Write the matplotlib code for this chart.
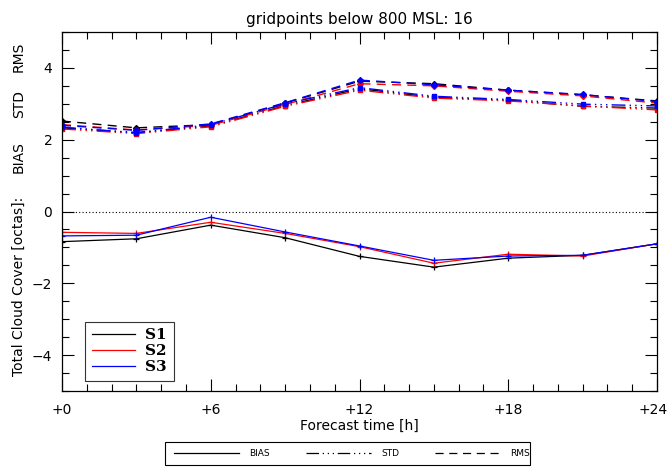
import matplotlib
matplotlib.use("Agg")
import matplotlib.pyplot as plt
from matplotlib.lines import Line2D
from matplotlib.patches import Rectangle
from matplotlib.ticker import MultipleLocator, FixedLocator
from matplotlib.transforms import ScaledTranslation

hours = [0, 3, 6, 9, 12, 15, 18, 21, 24]
xtick_vals = [0, 6, 12, 18, 24]
xtick_labels = ["+0", "+6", "+12", "+18", "+24"]
series = ["S1", "S2", "S3"]
colors = ["black", "red", "blue"]

bias = {
    "S1": [-0.84, -0.76, -0.38, -0.73, -1.25, -1.55, -1.30, -1.22, -0.90],
    "S2": [-0.58, -0.61, -0.30, -0.61, -0.98, -1.44, -1.19, -1.24, -0.90],
    "S3": [-0.68, -0.66, -0.16, -0.57, -0.96, -1.36, -1.24, -1.22, -0.90],
}
std = {
    "S1": [2.33, 2.20, 2.38, 2.95, 3.42, 3.18, 3.10, 2.93, 2.88],
    "S2": [2.30, 2.17, 2.36, 2.93, 3.38, 3.16, 3.08, 2.94, 2.83],
    "S3": [2.35, 2.19, 2.42, 3.00, 3.45, 3.21, 3.12, 2.99, 2.94],
}
rms = {
    "S1": [2.52, 2.33, 2.42, 3.02, 3.63, 3.56, 3.38, 3.25, 3.08],
    "S2": [2.42, 2.27, 2.40, 2.98, 3.56, 3.50, 3.35, 3.22, 3.02],
    "S3": [2.40, 2.26, 2.44, 3.03, 3.66, 3.53, 3.38, 3.26, 3.06],
}

title = "gridpoints below 800 MSL: 16"
ylabel = "Total Cloud Cover [octas]:"
ylabel_parts = ["BIAS", "STD", "RMS"]
xlabel = "Forecast time [h]"
stat_labels = ["BIAS", "STD", "RMS"]

W, H = 669, 467
fig = plt.figure(figsize=(W / 100, H / 100), dpi=100)
ax = fig.add_axes([62 / W, 76 / H, 595 / W, 359 / H])

dashdotdot = (0, (10, 3, 1, 3, 1, 3, 1, 3))
dashed = (0, (6.5, 4.5))
for s, c in zip(series, colors):
    ax.plot(hours, bias[s], color=c, lw=0.9, marker="+", ms=5, mew=0.9)
    ax.plot(hours, std[s], color=c, lw=1.0, ls=dashdotdot, marker="s", ms=3)
    ax.plot(hours, rms[s], color=c, lw=1.0, ls=dashed, marker="D", ms=3)

ax.axhline(0, color="black", lw=0.8, ls=(0, (1, 2)))

ax.set_xlim(0, 24)
ax.set_ylim(-5, 5)
ax.xaxis.set_major_locator(FixedLocator(xtick_vals))
ax.set_xticklabels(xtick_labels)
ax.xaxis.set_minor_locator(MultipleLocator(1))
ax.yaxis.set_major_locator(MultipleLocator(2))
ax.yaxis.set_minor_locator(MultipleLocator(0.5))
ax.tick_params(which="both", direction="in", top=True, right=True, labelsize=10)
ax.tick_params(which="major", length=8.5, width=0.8)
ax.tick_params(which="minor", length=5, width=0.8)
ax.tick_params(axis="x", pad=9)
ax.tick_params(axis="y", pad=7)
for sp in ax.spines.values():
    sp.set_linewidth(0.9)
last = ax.get_xticklabels()[-1]
last.set_transform(last.get_transform() + ScaledTranslation(-4 / 100, 0, fig.dpi_scale_trans))

ax.set_title(title, fontsize=11, pad=6)
ax.set_xlabel(xlabel, fontsize=10, labelpad=1)

# y-axis label pieces
fig.text(19 / W, 1 - 286 / H, ylabel, rotation=90, ha="center", va="center", fontsize=10)
for lab, ypx in zip(ylabel_parts, [157, 104, 57]):
    fig.text(19 / W, 1 - ypx / H, lab, rotation=90, ha="center", va="center", fontsize=10)

handles = [Line2D([0], [0], color=c, lw=0.9) for c in colors]
leg = ax.legend(handles, series, loc="lower left", bbox_to_anchor=(23 / 595, 10 / 359),
                borderaxespad=0,
                prop={"family": "DejaVu Serif", "weight": "bold", "size": 11},
                frameon=True, fancybox=False, edgecolor="black",
                handlelength=2.8, labelspacing=0.12, borderpad=0.45,
                handletextpad=0.7)
leg.get_frame().set_linewidth(0.8)

h2 = [Line2D([0], [0], color="black", lw=0.9, ls="-"),
      Line2D([0], [0], color="black", lw=0.9, ls=dashdotdot),
      Line2D([0], [0], color="black", lw=0.9, ls=dashed)]
leg2 = fig.legend(h2, stat_labels, loc="center",
                  bbox_to_anchor=(352 / W, 1 - 453.5 / H), ncol=3,
                  fontsize=6.5, frameon=False, handlelength=7.2,
                  columnspacing=4.0, handletextpad=1.1, borderpad=0.3)
fig.patches.append(Rectangle((165 / W, 1 - 465 / H), 365 / W, 23 / H,
                             transform=fig.transFigure, fill=False,
                             edgecolor="black", lw=0.8))

fig.savefig("out.png", dpi=100)
